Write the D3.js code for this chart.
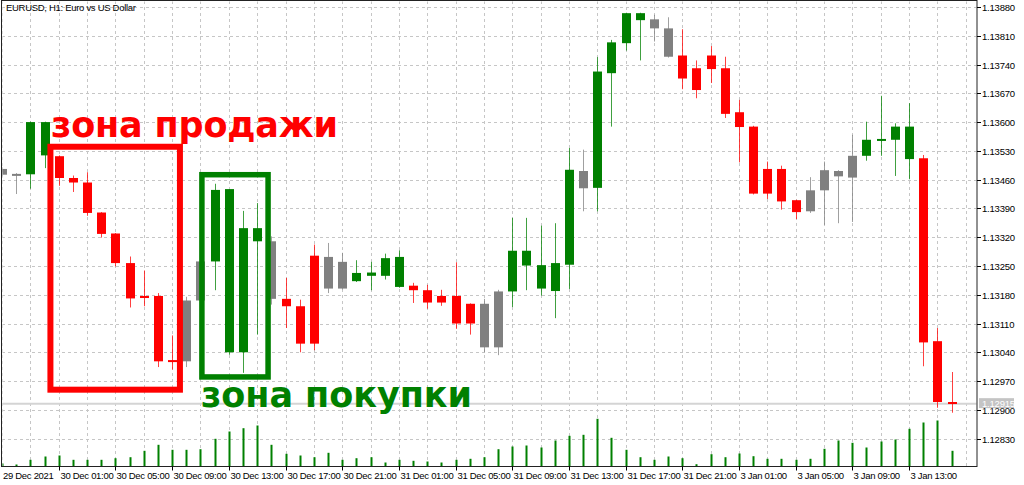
<!DOCTYPE html>
<html>
<head>
<meta charset="utf-8">
<script src="https://cdn.jsdelivr.net/npm/d3@7"></script>
<style>
  body { margin: 0; background: #fff; }
  svg { display: block; }
  .axis-text { font-family: "Liberation Sans", Arial, sans-serif; font-size: 9.5px; fill: #000; }
</style>
</head>
<body>
<svg id="chart" width="1024" height="485"></svg>
<script>
'use strict';

// EURUSD H1, one entry per bar (first bar is only half visible at the left edge)
const times = [
    "29 Dec 21:00", "29 Dec 22:00", "29 Dec 23:00",
    "30 Dec 00:00", "30 Dec 01:00", "30 Dec 02:00", "30 Dec 03:00", "30 Dec 04:00", "30 Dec 05:00",
    "30 Dec 06:00", "30 Dec 07:00", "30 Dec 08:00", "30 Dec 09:00", "30 Dec 10:00", "30 Dec 11:00",
    "30 Dec 12:00", "30 Dec 13:00", "30 Dec 14:00", "30 Dec 15:00", "30 Dec 16:00", "30 Dec 17:00",
    "30 Dec 18:00", "30 Dec 19:00", "30 Dec 20:00", "30 Dec 21:00", "30 Dec 22:00", "30 Dec 23:00",
    "31 Dec 00:00", "31 Dec 01:00", "31 Dec 02:00", "31 Dec 03:00", "31 Dec 04:00", "31 Dec 05:00",
    "31 Dec 06:00", "31 Dec 07:00", "31 Dec 08:00", "31 Dec 09:00", "31 Dec 10:00", "31 Dec 11:00",
    "31 Dec 12:00", "31 Dec 13:00", "31 Dec 14:00", "31 Dec 15:00", "31 Dec 16:00", "31 Dec 17:00",
    "31 Dec 18:00", "31 Dec 19:00", "31 Dec 20:00", "31 Dec 21:00", "31 Dec 22:00", "31 Dec 23:00",
    "3 Jan 00:00", "3 Jan 01:00", "3 Jan 02:00", "3 Jan 03:00", "3 Jan 04:00", "3 Jan 05:00",
    "3 Jan 06:00", "3 Jan 07:00", "3 Jan 08:00", "3 Jan 09:00", "3 Jan 10:00", "3 Jan 11:00",
    "3 Jan 12:00", "3 Jan 13:00", "3 Jan 14:00", "3 Jan 15:00", "3 Jan 16:00"
];

const open = [
    1.13486, 1.13474, 1.13473, 1.13600, 1.13517, 1.13464, 1.13453, 1.13380, 1.13329, 1.13257,
    1.13172, 1.13177, 1.13019, 1.13018, 1.13166, 1.13261, 1.13437, 1.13040, 1.13342, 1.13310,
    1.13170, 1.13152, 1.13061, 1.13272, 1.13195, 1.13233, 1.13226, 1.13226, 1.13272, 1.13202,
    1.13191, 1.13177, 1.13177, 1.13158, 1.13158, 1.13052, 1.13188, 1.13287, 1.13252, 1.13189,
    1.13253, 1.13481, 1.13440, 1.13719, 1.13792, 1.13865, 1.13850, 1.13828, 1.13762, 1.13731,
    1.13762, 1.13731, 1.13624, 1.13589, 1.13426, 1.13486, 1.13410, 1.13383, 1.13434, 1.13481,
    1.13465, 1.13518, 1.13557, 1.13557, 1.13589, 1.13512, 1.13067, 1.12919
];
const high = [
    1.13490, 1.13476, 1.13601, 1.13601, 1.13519, 1.13470, 1.13478, 1.13381, 1.13330, 1.13273,
    1.13239, 1.13184, 1.13081, 1.13175, 1.13263, 1.13450, 1.13437, 1.13384, 1.13403, 1.13322,
    1.13221, 1.13168, 1.13302, 1.13306, 1.13282, 1.13264, 1.13260, 1.13280, 1.13288, 1.13209,
    1.13204, 1.13192, 1.13259, 1.13159, 1.13170, 1.13192, 1.13367, 1.13367, 1.13348, 1.13354,
    1.13537, 1.13533, 1.13758, 1.13800, 1.13866, 1.13866, 1.13861, 1.13855, 1.13826, 1.13750,
    1.13785, 1.13759, 1.13654, 1.13591, 1.13504, 1.13494, 1.13411, 1.13466, 1.13504, 1.13483,
    1.13569, 1.13601, 1.13664, 1.13597, 1.13646, 1.13520, 1.13099, 1.12992
];
const low = [
    1.13468, 1.13425, 1.13438, 1.13488, 1.13445, 1.13430, 1.13372, 1.13319, 1.13249, 1.13149,
    1.13152, 1.13004, 1.12998, 1.13004, 1.13164, 1.13191, 1.13034, 1.12990, 1.13083, 1.13156,
    1.13099, 1.13040, 1.13045, 1.13184, 1.13193, 1.13211, 1.13191, 1.13217, 1.13197, 1.13160,
    1.13146, 1.13153, 1.13097, 1.13083, 1.13040, 1.13033, 1.13150, 1.13191, 1.13178, 1.13123,
    1.13194, 1.13383, 1.13383, 1.13589, 1.13774, 1.13750, 1.13796, 1.13757, 1.13680, 1.13658,
    1.13695, 1.13610, 1.13502, 1.13424, 1.13413, 1.13387, 1.13364, 1.13379, 1.13350, 1.13354,
    1.13357, 1.13506, 1.13518, 1.13469, 1.13461, 1.13006, 1.12905, 1.12893
];
const close = [
    1.13472, 1.13473, 1.13600, 1.13519, 1.13464, 1.13453, 1.13379, 1.13328, 1.13257, 1.13171,
    1.13177, 1.13018, 1.13021, 1.13166, 1.13261, 1.13435, 1.13040, 1.13342, 1.13310, 1.13170,
    1.13152, 1.13061, 1.13275, 1.13195, 1.13260, 1.13213, 1.13234, 1.13269, 1.13199, 1.13191,
    1.13161, 1.13161, 1.13110, 1.13110, 1.13052, 1.13188, 1.13287, 1.13251, 1.13195, 1.13257,
    1.13484, 1.13439, 1.13723, 1.13794, 1.13865, 1.13848, 1.13828, 1.13759, 1.13706, 1.13678,
    1.13729, 1.13620, 1.13588, 1.13426, 1.13486, 1.13407, 1.13381, 1.13434, 1.13483, 1.13468,
    1.13518, 1.13557, 1.13559, 1.13589, 1.13510, 1.13064, 1.12919, 1.12915
];
// tick volume
const volume = [
    300, 200, 670, 1000, 1100, 670, 670, 670, 830, 930,
    1570, 2170, 1670, 1670, 1730, 2770, 3500, 3830, 4100, 2170,
    1270, 1100, 930, 1370, 670, 830, 930, 400, 670, 570,
    500, 400, 670, 770, 930, 1730, 2000, 2100, 1900, 2600,
    3070, 3170, 4770, 2870, 1670, 930, 670, 1000, 830, 230,
    1230, 930, 1300, 1030, 770, 770, 670, 770, 1770, 2600,
    2370, 1900, 2500, 2700, 3770, 4400, 4600, 1570
];
// candle colour from the indicator: b = buy, s = sell, n = neutral
const signal = [
    "n", "n", "b", "b", "s", "s", "s", "s", "s", "s",
    "s", "s", "s", "n", "n", "b", "b", "b", "b", "n",
    "s", "s", "s", "n", "n", "b", "b", "b", "b", "s",
    "s", "s", "s", "s", "n", "n", "b", "b", "b", "b",
    "b", "n", "b", "b", "b", "b", "n", "n", "s", "s",
    "s", "s", "s", "s", "s", "s", "s", "n", "n", "n",
    "n", "b", "b", "b", "b", "s", "s", "s"
];

const priceTicks = [1.12830, 1.12900, 1.12970, 1.13040, 1.13110, 1.13180, 1.13250, 1.13320,
    1.13390, 1.13460, 1.13530, 1.13600, 1.13670, 1.13740, 1.13810, 1.13880];
const bidPrice = 1.12915;

// hand drawn zones: first / last bar covered and the price range
const sellZone = { label: "зона продажи", from: "30 Dec 01:00", to: "30 Dec 09:00", top: 1.13540, bottom: 1.12949 };
const buyZone = { label: "зона покупки", from: "30 Dec 11:00", to: "30 Dec 16:00", top: 1.13472, bottom: 1.12980 };

const colors = { b: "#008000", s: "#ff0000", n: "#808080" };

drawChart();

function drawChart() {
    var svg = d3.select("#chart");
    var left = 2, right = 977, top = 1, bottom = 466.5;

    var x = d3.scalePoint()
        .domain(times)
        .range([2.1, 951.5]);
    var step = x.step();

    var y = d3.scaleLinear()
        .domain([1.12830, 1.13880])
        .range([438.6, 7]);

    var v = d3.scaleLinear()
        .domain([0, 5000])
        .range([bottom, bottom - 50]);

    svg.append("clipPath").attr("id", "plot-clip")
        .append("rect")
        .attr("x", left + 0.5).attr("y", top + 0.5)
        .attr("width", right - left - 1).attr("height", bottom - top - 1);

    var plot = svg.append("g").attr("clip-path", "url(#plot-clip)");

    // grid: horizontal on each price tick, vertical every 2 bars
    plot.selectAll("line.hgrid")
        .data(priceTicks)
        .enter().append("line")
        .attr("class", "hgrid")
        .attr("x1", left).attr("x2", right)
        .attr("y1", function (d) { return Math.round(y(d)) + 0.5; })
        .attr("y2", function (d) { return Math.round(y(d)) + 0.5; })
        .attr("stroke", "#c6c6c6")
        .attr("stroke-dasharray", "3,3");

    var vgrid = d3.range(0, times.length + 2, 2);
    plot.selectAll("line.vgrid")
        .data(vgrid)
        .enter().append("line")
        .attr("class", "vgrid")
        .attr("x1", function (k) { return Math.round(x(times[0]) + k * step) + 0.5; })
        .attr("x2", function (k) { return Math.round(x(times[0]) + k * step) + 0.5; })
        .attr("y1", top).attr("y2", bottom)
        .attr("stroke", "#c6c6c6")
        .attr("stroke-dasharray", "3,3");

    // bid line
    plot.append("line")
        .attr("x1", left).attr("x2", right)
        .attr("y1", y(bidPrice)).attr("y2", y(bidPrice))
        .attr("stroke", "#d4d4d4")
        .attr("stroke-width", 2);

    var bars = times.map(function (t, i) {
        return { t: t, o: open[i], h: high[i], l: low[i], c: close[i], vol: volume[i], col: colors[signal[i]] };
    });

    // volumes
    plot.selectAll("rect.vol")
        .data(bars)
        .enter().append("rect")
        .attr("class", "vol")
        .attr("x", function (d) { return Math.round(x(d.t)) - 0.5; })
        .attr("width", 2)
        .attr("y", function (d) { return v(d.vol); })
        .attr("height", function (d) { return bottom - v(d.vol); })
        .attr("fill", "#008000");

    // candles
    var candle = plot.selectAll("g.candle")
        .data(bars)
        .enter().append("g")
        .attr("class", "candle");

    candle.append("line")
        .attr("x1", function (d) { return Math.round(x(d.t)) + 0.5; })
        .attr("x2", function (d) { return Math.round(x(d.t)) + 0.5; })
        .attr("y1", function (d) { return y(d.h); })
        .attr("y2", function (d) { return y(d.l); })
        .attr("stroke", function (d) { return d.col; })
        .attr("stroke-opacity", 0.75);

    candle.append("rect")
        .attr("x", function (d) { return Math.round(x(d.t)) - 4; })
        .attr("width", 9)
        .attr("y", function (d) { return y(Math.max(d.o, d.c)); })
        .attr("height", function (d) { return Math.max(2, Math.abs(y(d.o) - y(d.c))); })
        .attr("fill", function (d) { return d.col; });

    // zones (the boxes were drawn by hand so they sit a bit off the bar grid)
    var zoneStyle = [
        { col: "#ff0000", sw: 6, pad0: -0.59, pad1: 0.55 },
        { col: "#008000", sw: 5.5, pad0: 0.1, pad1: -0.23 }
    ];
    [sellZone, buyZone].forEach(function (z, n) {
        var s = zoneStyle[n];
        var x0 = x(z.from) + s.pad0 * step, x1 = x(z.to) + s.pad1 * step;
        svg.append("rect")
            .attr("x", x0).attr("y", y(z.top))
            .attr("width", x1 - x0).attr("height", y(z.bottom) - y(z.top))
            .attr("fill", "none")
            .attr("stroke", s.col)
            .attr("stroke-width", s.sw);
    });

    svg.append("text")
        .attr("x", 51).attr("y", 136.7)
        .attr("font-family", "DejaVu Sans")
        .attr("font-weight", "bold")
        .attr("font-size", 35)
        .attr("textLength", 287)
        .attr("fill", "#ff0000")
        .text(sellZone.label);

    svg.append("text")
        .attr("x", 201).attr("y", 406.5)
        .attr("font-family", "DejaVu Sans")
        .attr("font-weight", "bold")
        .attr("font-size", 35)
        .attr("textLength", 271)
        .attr("fill", "#008000")
        .text(buyZone.label);

    // frame
    svg.append("rect")
        .attr("x", left - 0.5).attr("y", top - 0.5)
        .attr("width", right - left + 0.5).attr("height", bottom - top + 0.5)
        .attr("fill", "none")
        .attr("stroke", "#222");

    // price axis
    var py = svg.append("g");
    priceTicks.forEach(function (p) {
        var yy = Math.round(y(p)) + 0.5;
        py.append("line")
            .attr("x1", right).attr("x2", right + 4)
            .attr("y1", yy).attr("y2", yy)
            .attr("stroke", "#000");
        py.append("text")
            .attr("class", "axis-text")
            .attr("x", right + 5).attr("y", yy + 3.5)
            .attr("letter-spacing", -0.2)
            .text(d3.format(".5f")(p));
    });

    // bid label
    svg.append("rect")
        .attr("x", right + 2).attr("y", y(bidPrice) - 5.5)
        .attr("width", 35).attr("height", 10)
        .attr("fill", "#c4c4c4");
    svg.append("text")
        .attr("class", "axis-text")
        .attr("x", right + 5).attr("y", y(bidPrice) + 3.5)
        .attr("letter-spacing", -0.2)
        .style("fill", "#fff")
        .text(d3.format(".5f")(bidPrice));

    // time axis: first label is the date, then every 4 bars
    var tx = svg.append("g");
    tx.append("text")
        .attr("class", "axis-text")
        .attr("x", left + 1).attr("y", 479)
        .attr("letter-spacing", -0.3)
        .text("29 Dec 2021");
    for (var k = 4; k < times.length; k += 4) {
        var xx = Math.round(x(times[k])) + 0.5;
        tx.append("line")
            .attr("x1", xx).attr("x2", xx)
            .attr("y1", bottom).attr("y2", bottom + 4)
            .attr("stroke", "#000");
        tx.append("text")
            .attr("class", "axis-text")
            .attr("x", xx + 1).attr("y", 479)
            .attr("letter-spacing", -0.3)
            .text(times[k]);
    }

    svg.append("text")
        .attr("class", "axis-text")
        .attr("x", 6).attr("y", 11)
        .attr("letter-spacing", -0.3)
        .text("EURUSD, H1:  Euro vs US Dollar");
}
</script>
</body>
</html>
